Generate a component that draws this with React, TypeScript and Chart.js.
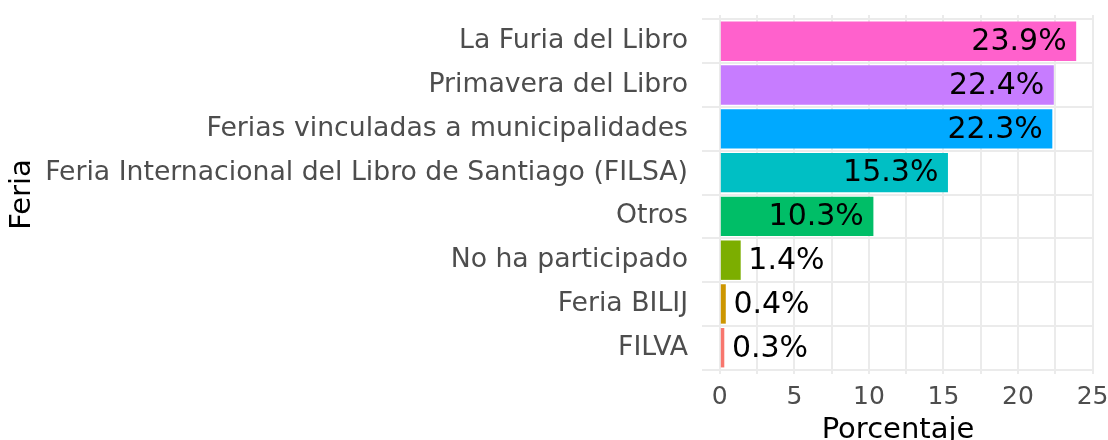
import React, { useEffect, useRef } from "react";
import { Chart, registerables } from "chart.js";

Chart.register(...registerables);

const categories = [
  "La Furia del Libro",
  "Primavera del Libro",
  "Ferias vinculadas a municipalidades",
  "Feria Internacional del Libro de Santiago (FILSA)",
  "Otros",
  "No ha participado",
  "Feria BILIJ",
  "FILVA",
];
const values = [23.9, 22.4, 22.3, 15.3, 10.3, 1.4, 0.4, 0.3];
const colors = ["#FF61CC", "#C77CFF", "#00A9FF", "#00BFC4", "#00BE67", "#7CAE00", "#CD9600", "#F8766D"];
const xTicks = [0, 2.5, 5, 7.5, 10, 12.5, 15, 17.5, 20, 22.5, 25];
const xTitle = "Porcentaje";
const yTitle = "Feria";

const FONT = "'DejaVu Sans', sans-serif";

const labelPlugin = {
  id: "labels",
  afterDatasetsDraw(chart: any) {
    const ctx = chart.ctx;
    const meta = chart.getDatasetMeta(0);
    ctx.save();
    ctx.font = `30px ${FONT}`;
    ctx.fillStyle = "#000000";
    ctx.textBaseline = "middle";
    meta.data.forEach((bar: any, i: number) => {
      const v = values[i];
      const txt = v.toFixed(1) + "%";
      const w = ctx.measureText(txt).width;
      if (v >= 5) {
        ctx.textAlign = "right";
        ctx.fillText(txt, bar.x - 0.1 * w, bar.y + 1);
      } else {
        ctx.textAlign = "left";
        ctx.fillText(txt, bar.x + 0.1 * w, bar.y + 1);
      }
    });
    ctx.restore();
  },
};

const titlePlugin = {
  id: "titles",
  afterDraw(chart: any) {
    const ctx = chart.ctx;
    const a = chart.chartArea;
    ctx.save();
    ctx.fillStyle = "#000000";
    ctx.font = `29px ${FONT}`;
    ctx.textAlign = "center";
    ctx.textBaseline = "alphabetic";
    ctx.fillText(xTitle, (a.left + a.right) / 2, 438);
    ctx.translate(30, (a.top + a.bottom) / 2);
    ctx.rotate(-Math.PI / 2);
    ctx.fillText(yTitle, 0, 0);
    ctx.restore();
  },
};

export default function App() {
  const ref = useRef<HTMLCanvasElement>(null);
  useEffect(() => {
    const chart = new Chart(ref.current as HTMLCanvasElement, {
      type: "bar",
      data: {
        datasets: [
          {
            data: values.map((v, i) => ({ x: v, y: i })) as any,
            backgroundColor: colors,
            borderWidth: 0,
            categoryPercentage: 1,
            barPercentage: 0.9,
          },
        ],
      },
      options: {
        animation: false,
        responsive: true,
        maintainAspectRatio: false,
        indexAxis: "y",
        layout: { padding: { top: 15, right: 14, bottom: 0, left: 0 } },
        plugins: { legend: { display: false }, tooltip: { enabled: false } },
        scales: {
          x: {
            type: "linear",
            min: -1.195,
            max: 25.095,
            offset: false,
            afterBuildTicks: (s: any) => {
              s.ticks = xTicks.map((v) => ({ value: v }));
            },
            afterFit: (s: any) => {
              s.height = 66;
              s.paddingLeft = 0;
              s.paddingRight = 0;
            },
            grid: {
              color: "#EBEBEB",
              lineWidth: 2,
              drawTicks: false,
            },
            border: { display: false },
            ticks: {
              autoSkip: false,
              maxRotation: 0,
              padding: 8,
              color: "#4D4D4D",
              font: { family: FONT, size: 25 },
              callback: (v: any) => (Number(v) % 5 === 0 ? String(v) : ""),
            },
          },
          y: {
            type: "linear",
            min: -0.6,
            max: 7.6,
            reverse: true,
            offset: false,
            afterBuildTicks: (s: any) => {
              s.ticks = categories.map((_, i) => ({ value: i }));
            },
            afterFit: (s: any) => {
              s.width = 702;
              s.paddingTop = 0;
              s.paddingBottom = 0;
            },
            grid: { color: "#EBEBEB", lineWidth: 2, drawTicks: false },
            border: { display: false },
            ticks: {
              autoSkip: false,
              padding: 14,
              color: "#4D4D4D",
              font: { family: FONT, size: 26.7 },
              callback: (v: any) => categories[Number(v)] ?? "",
            },
          },
        },
      },
      plugins: [labelPlugin, titlePlugin],
    });
    return () => chart.destroy();
  }, []);
  return (
    <div style={{ position: "fixed", left: 0, top: 0, width: 1108, height: 440 }}>
      <canvas ref={ref} />
    </div>
  );
}
